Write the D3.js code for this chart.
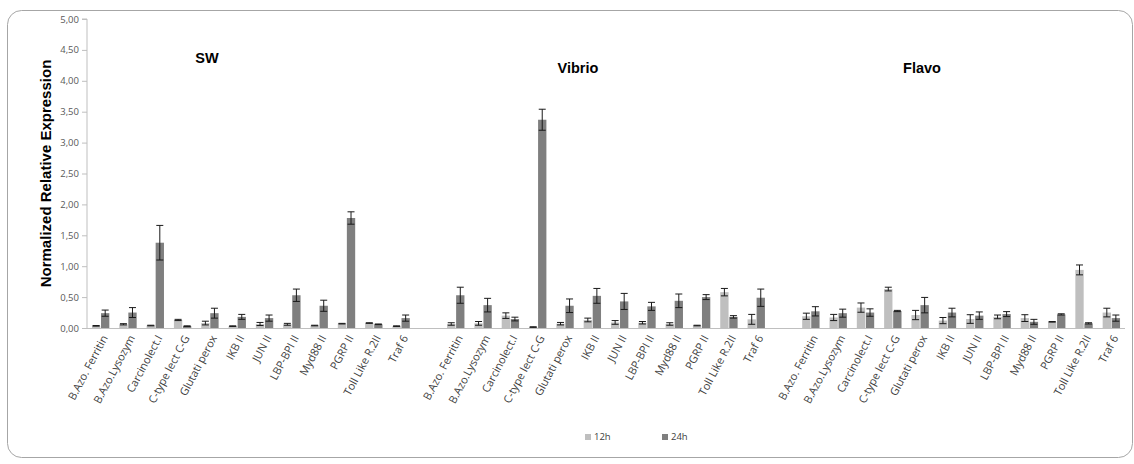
<!DOCTYPE html>
<html><head><meta charset="utf-8">
<script src="https://cdn.jsdelivr.net/npm/d3@7"></script>
<style>
html,body{margin:0;padding:0;background:#fff;}
svg{display:block;font-family:"Open Sans","Noto Sans",sans-serif;}
</style></head>
<body><svg id="c" width="1134" height="464"></svg>
<script>
const genes = ["B.Azo. Ferritin","B.Azo.Lysozym","Carcinolect.I","C-type lect C-G","Glutati perox","IKB II","JUN II","LBP-BPI II","Myd88 II","PGRP II","Toll Like R.2II","Traf 6"];
const groups = ["SW","Vibrio","Flavo"];
const seriesNames = ["12h","24h"];
const yTicks = [0,0.5,1,1.5,2,2.5,3,3.5,4,4.5,5];

const sw12   = [0.035,0.06,0.04,0.13,0.08,0.03,0.065,0.06,0.04,0.07,0.08,0.03];
const sw12e  = [0.005,0.01,0.005,0.01,0.03,0.005,0.025,0.015,0.005,0.005,0.005,0.005];
const sw24   = [0.24,0.25,1.38,0.03,0.24,0.18,0.16,0.53,0.36,1.78,0.06,0.16];
const sw24e  = [0.05,0.08,0.28,0.005,0.08,0.04,0.05,0.10,0.09,0.10,0.005,0.05];
const vib12  = [0.065,0.075,0.20,0.015,0.07,0.13,0.09,0.085,0.065,0.04,0.58,0.14];
const vib12e = [0.02,0.03,0.045,0.005,0.02,0.03,0.03,0.02,0.02,0.005,0.06,0.08];
const vib24  = [0.53,0.37,0.145,3.37,0.36,0.52,0.43,0.35,0.44,0.50,0.18,0.49];
const vib24e = [0.13,0.11,0.03,0.17,0.11,0.12,0.13,0.065,0.11,0.04,0.02,0.14];
const fla12  = [0.19,0.17,0.33,0.63,0.21,0.12,0.145,0.18,0.16,0.10,0.94,0.25];
const fla12e = [0.05,0.05,0.075,0.03,0.075,0.05,0.07,0.03,0.055,0.005,0.08,0.07];
const fla24  = [0.27,0.24,0.25,0.275,0.37,0.25,0.20,0.225,0.10,0.22,0.075,0.16];
const fla24e = [0.075,0.065,0.06,0.01,0.125,0.07,0.06,0.04,0.04,0.01,0.01,0.05];

const groupVals = {
  SW: [[sw12, sw12e],[sw24, sw24e]],
  Vibrio: [[vib12, vib12e],[vib24, vib24e]],
  Flavo: [[fla12, fla12e],[fla24, fla24e]]
};
const colors = {"12h":"#bfbfbf","24h":"#7f7f7f"};

const svg = d3.select("#c");
svg.append("rect").attr("x",7.5).attr("y",10.5).attr("width",1125).attr("height",447)
  .attr("rx",14).attr("fill","#fff").attr("stroke","#a6a6a6").attr("stroke-width",1);

const x0 = 87, x1 = 1125, yTop = 19, yBot = 328;
const slots = [];
groups.forEach((g,gi)=>{
  genes.forEach(n=>slots.push(g+"|"+n));
  if(gi<groups.length-1) slots.push("gap"+gi);
});
const x = d3.scaleBand().domain(slots).range([x0,x1]).paddingInner(0).paddingOuter(0);
const xs = d3.scaleBand().domain(seriesNames).range([0,x.bandwidth()]).paddingInner(0.08).paddingOuter(0.55);
const y = d3.scaleLinear().domain([0,5]).range([yBot,yTop]);

const yAxis = d3.axisLeft(y).tickValues(yTicks).tickSize(5).tickPadding(3)
  .tickFormat(d=>d3.format(".2f")(d).replace(".",","));
const ya = svg.append("g").attr("transform",`translate(${x0},0)`).call(yAxis);
ya.select(".domain").attr("stroke","#bfbfbf").attr("d",`M-5,${yTop}H0V${yBot}`);
ya.selectAll(".tick line").attr("stroke","#bfbfbf");
ya.selectAll("text").attr("fill","#595959").style("font-size","9.5px").style("font-family","'Open Sans',sans-serif");

const barData = [];
groups.forEach(g=>{
  genes.forEach((n,i)=>{
    seriesNames.forEach((s,si)=>{
      barData.push({slot:g+"|"+n, s, v:groupVals[g][si][0][i], e:groupVals[g][si][1][i]});
    });
  });
});
svg.append("g").selectAll("rect").data(barData).join("rect")
  .attr("x",d=>x(d.slot)+xs(d.s)).attr("width",xs.bandwidth())
  .attr("y",d=>y(d.v)).attr("height",d=>y(0)-y(d.v))
  .attr("fill",d=>colors[d.s]);

const eg = svg.append("g").attr("stroke","#1a1a1a").attr("stroke-width",1);
barData.forEach(d=>{
  const cx = x(d.slot)+xs(d.s)+xs.bandwidth()/2;
  const top = y(d.v+d.e), bot = y(Math.max(0,d.v-d.e));
  eg.append("line").attr("x1",cx).attr("x2",cx).attr("y1",top).attr("y2",bot);
  eg.append("line").attr("x1",cx-3.5).attr("x2",cx+3.5).attr("y1",top).attr("y2",top);
  eg.append("line").attr("x1",cx-3.5).attr("x2",cx+3.5).attr("y1",bot).attr("y2",bot);
});

svg.append("line").attr("x1",x0).attr("x2",x1).attr("y1",yBot+0.5).attr("y2",yBot+0.5)
  .attr("stroke","#bfbfbf").attr("stroke-width",1);

const lg = svg.append("g");
groups.forEach(g=>{
  genes.forEach(n=>{
    const cx = x(g+"|"+n)+x.bandwidth()/2+4;
    lg.append("text").attr("transform",`translate(${cx},${yBot+8}) rotate(-62)`)
      .attr("text-anchor","end").attr("dy","0.35em")
      .attr("fill","#404040").style("font-size","11px").text(n);
  });
});

const titlePos = {SW:[207,63],Vibrio:[578,73],Flavo:[922,73]};
groups.forEach(g=>{
  svg.append("text").attr("x",titlePos[g][0]).attr("y",titlePos[g][1])
    .attr("text-anchor","middle").attr("font-weight","bold").style("font-size","14.5px")
    .style("font-family","'Liberation Sans',Arial,sans-serif").attr("fill","#000").text(g);
});

svg.append("text").attr("transform",`translate(51,${(yTop+yBot)/2}) rotate(-90)`)
  .attr("text-anchor","middle").attr("font-weight","bold").style("font-size","15px")
  .style("font-family","'Liberation Sans',Arial,sans-serif").attr("fill","#000")
  .text("Normalized Relative Expression");

const legX = [585,662];
seriesNames.forEach((s,i)=>{
  svg.append("rect").attr("x",legX[i]).attr("y",434).attr("width",6).attr("height",6).attr("fill",colors[s]);
  svg.append("text").attr("x",legX[i]+9).attr("y",437).attr("dy","0.35em")
    .attr("fill","#404040").style("font-size","9.5px").text(s);
});
</script></body></html>
